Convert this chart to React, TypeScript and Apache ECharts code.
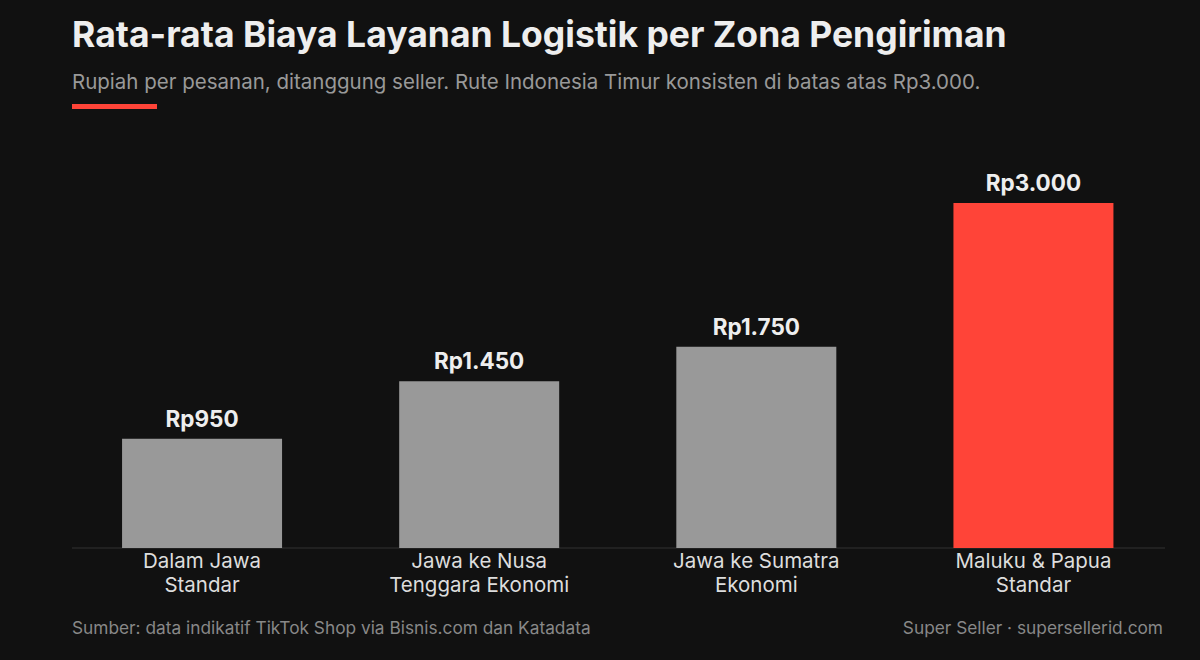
import React, { useEffect, useRef } from "react";
import * as echarts from "echarts";

const categories = [
  "Dalam Jawa\nStandar",
  "Jawa ke Nusa\nTenggara Ekonomi",
  "Jawa ke Sumatra\nEkonomi",
  "Maluku & Papua\nStandar",
];
const values = [950, 1450, 1750, 3000];
const highlight = [false, false, false, true];

const TITLE = "Rata-rata Biaya Layanan Logistik per Zona Pengiriman";
const SUBTITLE =
  "Rupiah per pesanan, ditanggung seller. Rute Indonesia Timur konsisten di batas atas Rp3.000.";
const SOURCE = "Sumber: data indikatif TikTok Shop via Bisnis.com dan Katadata";
const BRAND = "Super Seller · supersellerid.com";

const FONT = "Inter, 'Noto Sans', sans-serif";
const BG = "#111111";

function fmt(v: number): string {
  return "Rp" + String(v).replace(/\B(?=(\d{3})+(?!\d))/g, ".");
}

export default function App() {
  const ref = useRef<HTMLDivElement>(null);
  useEffect(() => {
    document.body.style.margin = "0";
    document.body.style.background = BG;
    const chart = echarts.init(ref.current!, null, { renderer: "svg" });
    chart.setOption({
      animation: false,
      backgroundColor: BG,
      textStyle: { fontFamily: FONT },
      grid: { left: 63.5, right: 28, top: 168.5, bottom: 112 },
      xAxis: {
        type: "category",
        data: categories,
        axisLine: { show: false },
        axisTick: { show: false },
        axisLabel: {
          color: "#dddddd",
          fontSize: 20.5,
          lineHeight: 24,
          margin: 0,
          fontFamily: FONT,
          interval: 0,
        },
      },
      yAxis: {
        type: "value",
        min: 0,
        max: 3300,
        show: false,
        splitLine: { show: false },
      },
      series: [
        {
          type: "bar",
          barWidth: 160,
          data: values.map((v, i) => ({
            value: v,
            itemStyle: { color: highlight[i] ? "#ff4438" : "#999999" },
          })),
          label: {
            show: true,
            position: "top",
            distance: 9,
            color: "#eeeeee",
            fontSize: 22.5,
            fontWeight: "bold",
            fontFamily: FONT,
            formatter: (p: any) => fmt(p.value),
          },
        },
      ],
      graphic: [
        {
          type: "text",
          left: 72,
          top: 16,
          style: {
            text: TITLE,
            fill: "#eeeeee",
            font: `bold 35.5px ${FONT}`,
          },
        },
        {
          type: "text",
          left: 72,
          top: 71,
          style: {
            text: SUBTITLE,
            fill: "#999999",
            font: `20.5px ${FONT}`,
          },
        },
        {
          type: "rect",
          shape: { x: 72, y: 104, width: 85, height: 5 },
          style: { fill: "#ff4438" },
        },
        {
          type: "line",
          shape: { x1: 72, y1: 548, x2: 1165, y2: 548 },
          style: { stroke: "#333333", lineWidth: 1 },
        },
        {
          type: "text",
          left: 72,
          top: 619,
          style: { text: SOURCE, fill: "#888888", font: `17.3px ${FONT}` },
        },
        {
          type: "text",
          right: 37,
          top: 619,
          style: { text: BRAND, fill: "#888888", font: `17.3px ${FONT}` },
        },
      ],
    });
    return () => chart.dispose();
  }, []);
  return <div ref={ref} style={{ width: 1200, height: 660 }} />;
}
